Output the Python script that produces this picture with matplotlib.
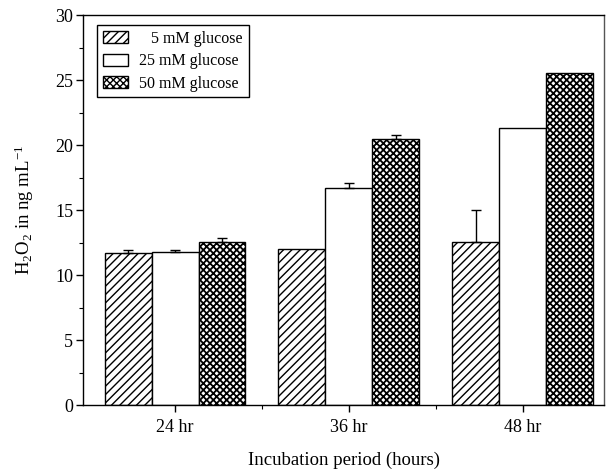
import matplotlib
matplotlib.use("Agg")
import matplotlib.pyplot as plt
import numpy as np
from matplotlib.ticker import MultipleLocator, FixedLocator

plt.rcParams['font.family'] = ['Liberation Serif', 'DejaVu Serif']
plt.rcParams['mathtext.fontset'] = 'custom'
plt.rcParams['mathtext.rm'] = 'Liberation Serif'
plt.rcParams['mathtext.it'] = 'Liberation Serif:italic'
plt.rcParams['mathtext.default'] = 'rm'
plt.rcParams['hatch.linewidth'] = 1.0

categories = ['24 hr', '36 hr', '48 hr']
series_labels = ['\u2007 5 mM glucose', '25 mM glucose', '50 mM glucose']
glucose_5 = [11.7, 12.0, 12.55]
glucose_25 = [11.75, 16.7, 21.3]
glucose_50 = [12.55, 20.5, 25.55]
err_5 = [0.2, 0.0, 2.45]
err_25 = [0.15, 0.4, 0.0]
err_50 = [0.3, 0.28, 0.0]

values = [glucose_5, glucose_25, glucose_50]
errors = [err_5, err_25, err_50]
hatches = ['////', '', 'xxxxx']

fig = plt.figure(figsize=(6.06, 4.70), dpi=100)
ax = fig.add_axes([0.137, 0.138, 0.86, 0.830])

x = np.arange(len(categories))
w = 0.27
for i, (vals, errs, h, lab) in enumerate(zip(values, errors, hatches, series_labels)):
    pos = x + (i - 1) * w
    bars = ax.bar(pos, vals, width=w, facecolor='white', edgecolor='black',
                  hatch=h, linewidth=1.0, label=lab, zorder=2)
    if h.startswith('x'):
        for b in bars:
            if hasattr(b, 'set_hatch_linewidth'):
                b.set_hatch_linewidth(1.3)
    yerr = np.array([np.zeros(len(errs)), errs])
    mask = np.array(errs) > 0
    ax.errorbar(pos[mask], np.array(vals)[mask], yerr=yerr[:, mask], fmt='none',
                ecolor='black', elinewidth=1.0, capsize=3.5, capthick=1.0, zorder=3)

ax.set_xlim(-0.53, 2.47)
ax.set_ylim(0, 30)
ax.set_xticks(x)
ax.set_xticklabels(categories)
ax.xaxis.set_minor_locator(FixedLocator([0.5, 1.5]))
ax.yaxis.set_major_locator(MultipleLocator(5))
ax.yaxis.set_minor_locator(MultipleLocator(2.5))
ax.tick_params(axis='both', which='major', direction='out', length=5, width=1.0, labelsize=13, pad=2)
ax.tick_params(axis='both', which='minor', direction='out', length=3, width=0.8)
ax.tick_params(axis='x', which='major', pad=5)

for s in ax.spines.values():
    s.set_linewidth(1.0)
ax.spines['right'].set_color('#555555')

ax.set_xlabel('Incubation period (hours)', fontsize=13.5, labelpad=11)
ax.set_ylabel(r'H$_2$O$_2$ in ng mL$^{-1}$', fontsize=13.5, labelpad=14)

leg = ax.legend(loc='upper left', bbox_to_anchor=(0.027, 0.974), fontsize=11.5,
                frameon=True, fancybox=False, edgecolor='black', framealpha=1,
                handlelength=1.6, handleheight=0.8, labelspacing=0.4,
                borderpad=0.35, handletextpad=0.7, borderaxespad=0)
leg.get_frame().set_linewidth(1.0)

fig.savefig('out.png', dpi=100)
